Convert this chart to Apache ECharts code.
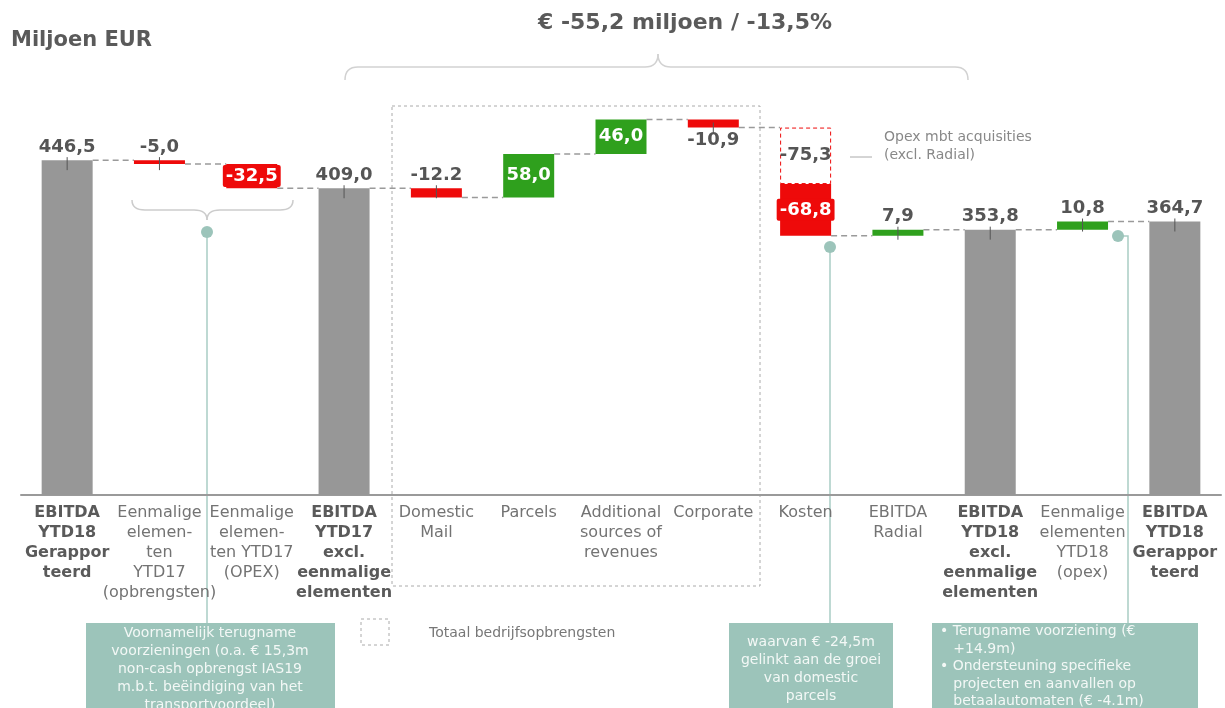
<!DOCTYPE html>
<html>
<head>
<meta charset="utf-8">
<script src="https://cdn.jsdelivr.net/npm/echarts@6/dist/echarts.min.js"></script>
<style>
  html, body { margin: 0; padding: 0; background: #fff; }
  #chart { width: 1225px; height: 708px; }
</style>
</head>
<body>
<div id="chart"></div>
<script>
// categorieen en waarden (miljoen EUR)
var categories = [
  "EBITDA\nYTD18\nGerappor\nteerd",
  "Eenmalige\nelemen-\nten\nYTD17\n(opbrengsten)",
  "Eenmalige\nelemen-\nten YTD17\n(OPEX)",
  "EBITDA\nYTD17\nexcl.\neenmalige\nelementen",
  "Domestic\nMail",
  "Parcels",
  "Additional\nsources of\nrevenues",
  "Corporate",
  "Kosten",
  "EBITDA\nRadial",
  "EBITDA\nYTD18\nexcl.\neenmalige\nelementen",
  "Eenmalige\nelementen\nYTD18\n(opex)",
  "EBITDA\nYTD18\nGerappor\nteerd"
];
var steps = [446.5, -5.0, -32.5, 409.0, -12.2, 58.0, 46.0, -10.9, -68.8, 7.9, 353.8, 10.8, 364.7];
var isTotal = [true, false, false, true, false, false, false, false, false, false, true, false, true];
// opex mbt acquisities (gestippeld deel van Kosten)
var opexSteps = [0, 0, 0, 0, 0, 0, 0, 0, -75.3, 0, 0, 0, 0];
var valueLabels = ["446,5", "-5,0", "-32,5", "409,0", "-12.2", "58,0", "46,0", "-10,9", "-68,8", "7,9", "353,8", "10,8", "364,7"];
var opexLabel = "-75,3";
// waar het label staat: top / inside / bottom
var labelPos = ["top", "top", "inside", "top", "top", "inside", "inside", "bottom", "inside", "top", "top", "top", "top"];

var GREY = "#979797", RED = "#ee0a0a", GREEN = "#2fa01d", TEAL = "#9cc4ba";
var TXT = "#555555";
var FONT = "DejaVu Sans";

// bereken de waterval
var baseData = [], solidData = [], dashData = [], connectors = [], ticks = [];
var level = 0;
for (var i = 0; i < steps.length; i++) {
  var lo, hi, color;
  if (isTotal[i]) {
    lo = 0; hi = steps[i]; level = steps[i]; color = GREY;
    baseData.push(0);
    dashData.push("-");
  } else {
    var start = level;
    var mid = start + opexSteps[i];
    var end = mid + steps[i];
    level = end;
    lo = Math.min(mid, end); hi = Math.max(mid, end);
    color = steps[i] < 0 ? RED : GREEN;
    baseData.push(lo);
    dashData.push(opexSteps[i] !== 0 ? Math.abs(opexSteps[i]) : "-");
  }
  var pos = labelPos[i];
  var lbl = {
    show: true,
    position: pos,
    formatter: valueLabels[i],
    fontFamily: FONT,
    fontWeight: "bold",
    fontSize: 18,
    color: pos === "inside" ? "#ffffff" : TXT,
    distance: 4
  };
  if (pos === "inside" && color === RED) {
    lbl.backgroundColor = RED;
    lbl.padding = [2, 3];
    lbl.borderRadius = 2;
  }
  solidData.push({ value: hi - lo, itemStyle: { color: color }, label: lbl });
  if (i < steps.length - 1) connectors.push([i, level]);
  if (pos === "top") ticks.push([i, hi, 0]);
  if (pos === "bottom") ticks.push([i, lo, 1]);
}

// accolade als losse lijnstukken
function brace(x1, x2, xm, y, depth, stroke) {
  var r = 13;
  var s = { stroke: stroke, lineWidth: 1.5, fill: "none" };
  var tip = y + depth; // depth < 0: punt omhoog
  var endY = y - depth;
  return [
    { type: "bezierCurve", shape: { x1: x1, y1: endY, cpx1: x1, cpy1: y, x2: x1 + r, y2: y }, style: s },
    { type: "line", shape: { x1: x1 + r, y1: y, x2: xm - r, y2: y }, style: s },
    { type: "bezierCurve", shape: { x1: xm - r, y1: y, cpx1: xm, cpy1: y, x2: xm, y2: tip }, style: s },
    { type: "bezierCurve", shape: { x1: xm, y1: tip, cpx1: xm, cpy1: y, x2: xm + r, y2: y }, style: s },
    { type: "line", shape: { x1: xm + r, y1: y, x2: x2 - r, y2: y }, style: s },
    { type: "bezierCurve", shape: { x1: x2 - r, y1: y, cpx1: x2, cpy1: y, x2: x2, y2: endY }, style: s }
  ];
}

var myChart = echarts.init(document.getElementById("chart"));

var boldIdx = [0, 3, 10, 12];

var graphics = [
  {
    type: "text",
    x: 11, y: 41,
    style: { text: "Miljoen EUR", font: "bold 21px 'DejaVu Sans'", fill: "#5a5a5a", textVerticalAlign: "middle" }
  },
  {
    type: "text",
    x: 685, y: 23,
    style: { text: "€ -55,2 miljoen / -13,5%", font: "bold 22px 'DejaVu Sans'", fill: "#5a5a5a", textAlign: "center", textVerticalAlign: "middle" }
  },
  {
    // kader totaal bedrijfsopbrengsten
    type: "rect",
    shape: { x: 392, y: 106, width: 368, height: 480 },
    style: { fill: "none", stroke: "#aaaaaa", lineWidth: 1, lineDash: [3, 3] },
    z: 0
  },
  {
    type: "rect",
    shape: { x: 361, y: 619, width: 28, height: 26 },
    style: { fill: "none", stroke: "#aaaaaa", lineWidth: 1, lineDash: [3, 3] }
  },
  {
    type: "text",
    x: 429, y: 633,
    style: { text: "Totaal bedrijfsopbrengsten", font: "14px 'DejaVu Sans'", fill: "#777", textVerticalAlign: "middle" }
  },
  // opex notitie
  {
    type: "line",
    shape: { x1: 850, y1: 157, x2: 872, y2: 157 },
    style: { stroke: "#aaaaaa", lineWidth: 1 }
  },
  {
    type: "text",
    x: 884, y: 146,
    style: { text: "Opex mbt acquisities\n(excl. Radial)", font: "14px 'DejaVu Sans'", fill: "#888", lineHeight: 18, textVerticalAlign: "middle" }
  },
  // verbindingslijnen naar de toelichting
  {
    type: "line",
    shape: { x1: 207, y1: 232, x2: 207, y2: 623 },
    style: { stroke: "#a9cdc4", lineWidth: 1.5 }
  },
  {
    type: "line",
    shape: { x1: 830, y1: 247, x2: 830, y2: 623 },
    style: { stroke: "#a9cdc4", lineWidth: 1.5 }
  },
  {
    type: "polyline",
    shape: { points: [[1118, 236], [1128, 236], [1128, 623]] },
    style: { fill: "none", stroke: "#a9cdc4", lineWidth: 1.5 }
  },
  { type: "circle", shape: { cx: 207, cy: 232, r: 6 }, style: { fill: TEAL } },
  { type: "circle", shape: { cx: 830, cy: 247, r: 6 }, style: { fill: TEAL } },
  { type: "circle", shape: { cx: 1118, cy: 236, r: 6 }, style: { fill: TEAL } },
  // toelichting boxen
  {
    type: "rect",
    shape: { x: 86, y: 623, width: 249, height: 90 },
    style: { fill: TEAL }
  },
  {
    type: "text",
    x: 210, y: 624,
    style: {
      text: "Voornamelijk terugname\nvoorzieningen (o.a. € 15,3m\nnon-cash opbrengst IAS19\nm.b.t. beëindiging van het\ntransportvoordeel)",
      font: "14px 'DejaVu Sans'", fill: "#f3f8f6", lineHeight: 18, textAlign: "center", textVerticalAlign: "top"
    }
  },
  {
    type: "rect",
    shape: { x: 729, y: 623, width: 164, height: 90 },
    style: { fill: TEAL }
  },
  {
    type: "text",
    x: 811, y: 633,
    style: {
      text: "waarvan € -24,5m\ngelinkt aan de groei\nvan domestic\nparcels",
      font: "14px 'DejaVu Sans'", fill: "#f3f8f6", lineHeight: 18, textAlign: "center", textVerticalAlign: "top"
    }
  },
  {
    type: "rect",
    shape: { x: 932, y: 623, width: 266, height: 90 },
    style: { fill: TEAL }
  },
  {
    type: "text",
    x: 940, y: 623,
    style: {
      text: "• Terugname voorziening (€\n   +14.9m)\n• Ondersteuning specifieke\n   projecten en aanvallen op\n   betaalautomaten (€ -4.1m)",
      font: "14px 'DejaVu Sans'", fill: "#f3f8f6", lineHeight: 17.5, textAlign: "left", textVerticalAlign: "top"
    }
  }
];
graphics = graphics.concat(brace(345, 968, 658, 67, -13, "#d2d2d2"));
graphics = graphics.concat(brace(132, 293, 207, 210, 10, "#cccccc"));

var option = {
  animation: false,
  backgroundColor: "#ffffff",
  grid: { left: 21, right: 4, top: 45, bottom: 213 },
  xAxis: {
    type: "category",
    data: categories,
    axisLine: { lineStyle: { color: "#9a9a9a", width: 2 } },
    axisTick: { show: false },
    axisLabel: {
      interval: 0,
      margin: 8,
      fontFamily: FONT,
      fontSize: 16,
      lineHeight: 20,
      color: "#737373",
      formatter: function(v, idx) {
        var style = boldIdx.indexOf(idx) >= 0 ? "b" : "n";
        return v.split("\n").map(function(l) { return "{" + style + "|" + l + "}"; }).join("\n");
      },
      rich: {
        b: { fontFamily: FONT, fontWeight: "bold", fontSize: 16, lineHeight: 20, color: "#5a5a5a" },
        n: { fontFamily: FONT, fontSize: 16, lineHeight: 20, color: "#737373" }
      }
    }
  },
  yAxis: {
    type: "value",
    min: 0,
    max: 600,
    show: false,
    splitLine: { show: false }
  },
  series: [
    {
      name: "base",
      type: "bar",
      stack: "wf",
      barWidth: 51,
      itemStyle: { color: "transparent" },
      emphasis: { disabled: true },
      data: baseData
    },
    {
      name: "waarde",
      type: "bar",
      stack: "wf",
      barWidth: 51,
      emphasis: { disabled: true },
      data: solidData,
      z: 3
    },
    {
      name: "opex",
      type: "bar",
      stack: "wf",
      barWidth: 51,
      emphasis: { disabled: true },
      itemStyle: {
        color: "rgba(255,255,255,0)",
        borderColor: RED,
        borderWidth: 1,
        borderType: [4, 3]
      },
      label: {
        show: true,
        position: "inside",
        formatter: opexLabel,
        fontFamily: FONT,
        fontWeight: "bold",
        fontSize: 18,
        color: TXT
      },
      data: dashData,
      z: 3
    },
    {
      // stippellijnen tussen de staven
      name: "connectors",
      type: "custom",
      silent: true,
      z: 1,
      data: connectors,
      renderItem: function(params, api) {
        var p = api.coord([api.value(0), api.value(1)]);
        var band = api.size([1, 0])[0];
        return {
          type: "line",
          shape: { x1: p[0] + 25.5, y1: p[1], x2: p[0] + band - 25.5, y2: p[1] },
          style: { stroke: "#9a9a9a", lineWidth: 1.5, lineDash: [6, 4] }
        };
      }
    },
    {
      // korte streepjes bij de labels
      name: "ticks",
      type: "custom",
      silent: true,
      z: 4,
      data: ticks,
      renderItem: function(params, api) {
        var p = api.coord([api.value(0), api.value(1)]);
        var down = api.value(2) === 1;
        return {
          type: "line",
          shape: down ? { x1: p[0], y1: p[1] - 5, x2: p[0], y2: p[1] + 5 }
                      : { x1: p[0], y1: p[1] - 3, x2: p[0], y2: p[1] + 10 },
          style: { stroke: "#555", lineWidth: 1 }
        };
      }
    }
  ],
  graphic: graphics
};

myChart.setOption(option);
</script>
</body>
</html>
